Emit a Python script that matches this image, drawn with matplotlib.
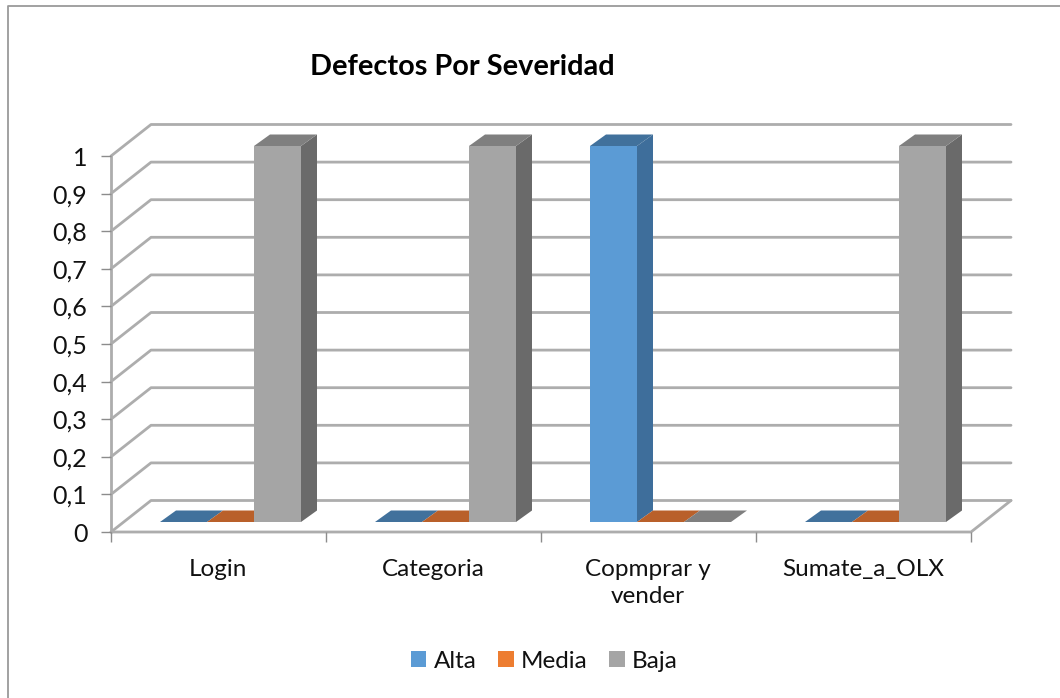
import matplotlib

matplotlib.use("Agg")
import matplotlib.pyplot as plt
from matplotlib.lines import Line2D
from matplotlib.patches import Patch

plt.rcParams["font.family"] = ["Lato", "DejaVu Sans"]

categories = ["Login", "Categoria", "Copmprar y\nvender", "Sumate_a_OLX"]
series_names = ["Alta", "Media", "Baja"]
alta = [0, 0, 1, 0]
media = [0, 0, 0, 0]
baja = [1, 1, 0, 1]
y_ticks = [0, 0.1, 0.2, 0.3, 0.4, 0.5, 0.6, 0.7, 0.8, 0.9, 1]
y_labels = ["0", "0,1", "0,2", "0,3", "0,4", "0,5", "0,6", "0,7", "0,8", "0,9", "1"]

front_colors = ["#5B9BD5", "#ED7D31", "#A5A5A5"]
side_colors = ["#3E6E9B", "#B05E28", "#6A6A6A"]
top_colors = ["#41719C", "#B9602A", "#7F7F7F"]
GRID = "#ADADAD"

W, H = 1060, 698
fig = plt.figure(figsize=(W / 100, H / 100), dpi=100)

# chart frame: only top and left edges fall inside the crop
fig.add_artist(Line2D([7.5 / W, 7.5 / W, 1], [0, 1 - 5.5 / H, 1 - 5.5 / H], color="#9A9A9A", linewidth=1.3))

# front plane of the fake 3d box
ax = fig.add_axes([111 / W, 1 - 532 / H, 860 / W, 376 / H])
ax.set_xlim(0, 4)
ax.set_ylim(0, 1)
ax.patch.set_visible(False)
for s in ax.spines.values():
    s.set_visible(False)

# depth offsets in data units
per_x = 215.0
per_y = 376.0
wall_dx, wall_dy = 40 / per_x, 31.5 / per_y
bar_off_x, bar_off_y = 13 / per_x, 10 / per_y
bar_dx, bar_dy = 16 / per_x, 11.5 / per_y
bar_w = 47 / per_x

grid_kw = dict(color=GRID, linewidth=2.0, clip_on=False, solid_capstyle="round")
for t in y_ticks:
    ax.plot([0, wall_dx, 4 + wall_dx], [t, t + wall_dy, t + wall_dy], zorder=1, **grid_kw)
ax.plot([0, 4, 4 + wall_dx], [0, 0, wall_dy], zorder=1, **grid_kw)
ax.plot([0, 0], [0, 1], zorder=1, **grid_kw)

# series drawn back to front, left to right
for i, vals in enumerate([alta, media, baja]):
    for c, v in enumerate(vals):
        x0 = c + bar_off_x + 0.5 - 1.5 * bar_w + i * bar_w - 1 / per_x
        x1 = x0 + bar_w
        y0 = bar_off_y
        y1 = y0 + v
        z = 3 + i
        if v > 0:
            ax.bar(x0, v, bottom=y0, width=bar_w, align="edge", color=front_colors[i], linewidth=0, zorder=z, clip_on=False)
            ax.fill([x1, x1 + bar_dx, x1 + bar_dx, x1], [y0, y0 + bar_dy, y1 + bar_dy, y1],
                    color=side_colors[i], linewidth=0, zorder=z, clip_on=False)
        ax.fill([x0, x1, x1 + bar_dx, x0 + bar_dx], [y1, y1, y1 + bar_dy, y1 + bar_dy],
                color=top_colors[i], linewidth=0, zorder=z, clip_on=False)

ax.set_yticks(y_ticks, y_labels)
ax.set_xticks(range(5))
ax.set_xticklabels([])
ax.tick_params(axis="y", length=7, width=1, color="#8C8C8C", labelsize=18, pad=10, labelcolor="#111111")
ax.tick_params(axis="x", length=7, width=1, color="#8C8C8C")
for c, name in enumerate(categories):
    ax.text(c + 0.5 - 0.003, -27 / per_y, name, ha="center", va="top", fontsize=17.5, color="#111111", linespacing=1.35, clip_on=False)

fig.text(462 / W, 1 - 67 / H, "Defectos Por Severidad", ha="center", va="center", fontsize=20.8, fontweight="bold", color="black")

handles = [Patch(facecolor=col, label=n) for col, n in zip(front_colors, series_names)]
fig.legend(handles=handles, loc="center", bbox_to_anchor=(544.5 / W, 1 - 661 / H), ncol=3, frameon=False,
           fontsize=17.5, handlelength=0.62, handleheight=0.62, handletextpad=0.3, columnspacing=0.9, labelcolor="#111111")

fig.savefig("out.png", dpi=100)
plt.close(fig)
